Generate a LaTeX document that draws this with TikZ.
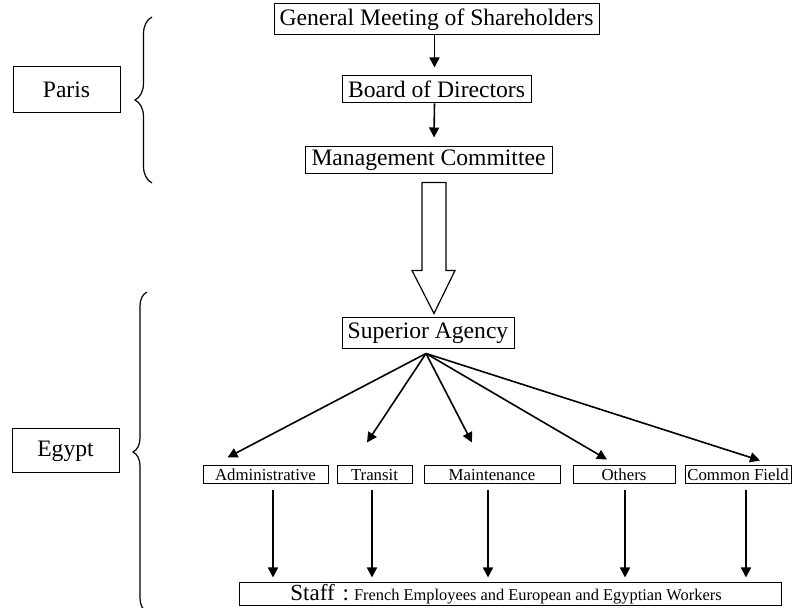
\documentclass[tikz,border=0pt]{standalone}
\usepackage{fontspec}
\setmainfont{Liberation Serif}
\usetikzlibrary{arrows.meta,calc,decorations.pathreplacing}

\begin{document}
\begin{tikzpicture}[
    x=0.5pt, y=-0.5pt,
    font=\fontsize{11.8}{13}\selectfont,
    box/.style ={draw=black, line width=0.5pt, inner sep=0pt, align=center},
    sbox/.style={box, font=\fontsize{8.4}{10}\selectfont, minimum height=9pt},
    arr/.style ={-{Triangle[length=5pt,width=5pt]}, line width=0.8pt},
    brc/.style ={decorate, decoration={brace, amplitude=#1}, line width=0.6pt},
  ]
  \useasboundingbox (0,0) rectangle (794,608);
  % head office chain
  \node[box, minimum width=162.5pt, minimum height=15.5pt] (gm) at (436.5,19.5)
       {General Meeting of Shareholders};
  \node[box, minimum width=94.5pt, minimum height=13.5pt] (bod) at (436.5,89.5)
       {Board of Directors};
  \node[box, minimum width=123.5pt, minimum height=13.5pt] (mc) at (428.5,160.5)
       {Management Committee};
  % places
  \node[box, minimum width=53.5pt, minimum height=23pt] (paris) at (66.5,90) {Paris};
  \node[box, minimum width=53.5pt, minimum height=22pt] (egypt) at (65.5,451) {Egypt};
  % local organisation
  \node[box, minimum width=86pt, minimum height=15.5pt] (sa) at (428,333.5)
       {Superior Agency};
  \node[sbox, minimum width=62.5pt] (adm) at (265.5,475) {Administrative};
  \node[sbox, minimum width=37.5pt] (trn) at (374.5,475) {Transit};
  \node[sbox, minimum width=68pt]   (mnt) at (492,475)   {Maintenance};
  \node[sbox, minimum width=51pt]   (oth) at (624,475)   {Others};
  \node[sbox, minimum width=53pt]   (cf)  at (738,475)   {Common Field};
  \node[box, minimum width=271pt, minimum height=11.5pt] (staff) at (510,594.5)
       {{\fontsize{11.5}{12}\selectfont Staff\hspace{4pt}:}\hspace{2.5pt}{\fontsize{8.2}{9}\selectfont French Employees and European and Egyptian Workers}\hspace*{4pt}};
  % arrows
  \draw[arr] ([xshift=-1pt]gm.south) -- ([xshift=-1pt,yshift=4pt]bod.north);
  \draw[arr] ([xshift=-1pt]bod.south) -- ([xshift=2.75pt,yshift=4.5pt]mc.north);
  \coordinate (btop) at ($(mc.south)+(5.5,8)$);
  \coordinate (btip) at ($(sa.north)+(6,-4)$);
  \draw[line width=0.6pt] ($(btop)+(-12,0)$) -- ($(btop)+(12,0)$)
       -- ($(btip)+(12,-43)$) -- ($(btip)+(21,-43)$) -- (btip)
       -- ($(btip)+(-22,-43)$) -- ($(btip)+(-12,-43)$) -- cycle;
  \coordinate (fan) at ($(sa.south)+(-2,4)$);
  \draw[arr] (fan) -- ($(adm.north)+(-38,-8)$);
  \draw[arr] (fan) -- ($(trn.north)+(-7.5,-23)$);
  \draw[arr] (fan) -- ($(mnt.north)+(-20,-23)$);
  \draw[arr] (fan) -- ($(oth.north)+(-17,-6)$);
  \draw[arr] (fan) -- ($(cf.north)+(22,-5)$);
  \foreach \n/\dx in {adm/7.5, trn/-2.5, mnt/-4, oth/1, cf/8}
    \draw[arr] ($(\n.south)+(\dx,6)$) -- ($(\n.south |- staff.north)+(\dx,-5)$);
  % braces
  \draw[brc=8.5pt] (152,183) -- (152,17);
  \draw[brc=7pt] (147,612) -- (147,292);
\end{tikzpicture}
\end{document}
